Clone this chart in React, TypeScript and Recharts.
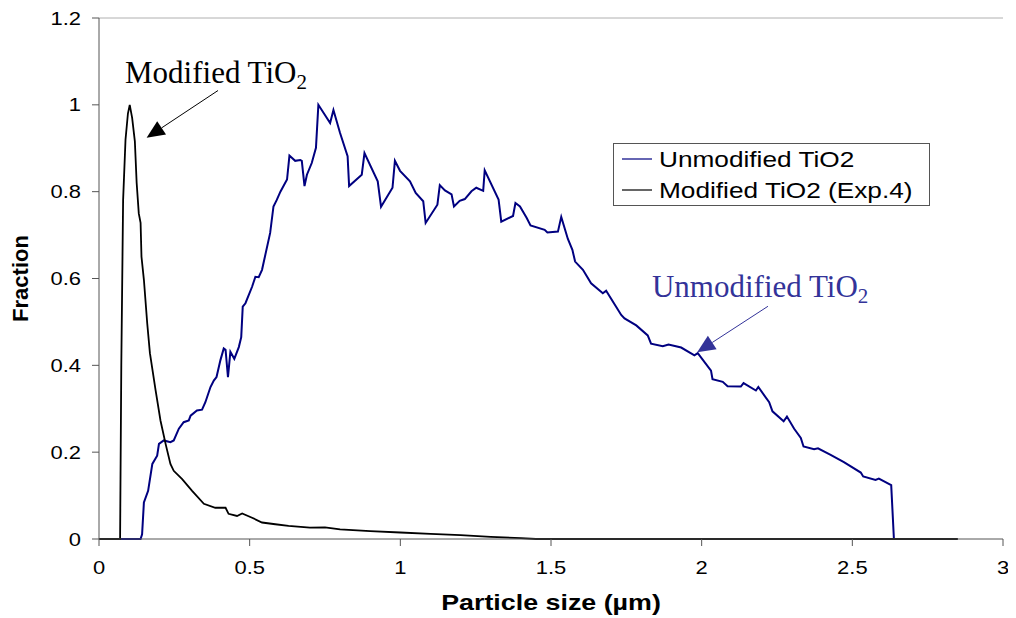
import React from 'react';
import { LineChart, Line, XAxis, YAxis, ReferenceLine } from 'recharts';

// ---- data ----
const modX = [0, 0.07, 0.074, 0.08, 0.088, 0.096, 0.102, 0.11, 0.119, 0.125, 0.132, 0.138, 0.141, 0.149, 0.16, 0.169, 0.188, 0.204, 0.221, 0.237, 0.248, 0.276, 0.309, 0.348, 0.386, 0.42, 0.43, 0.458, 0.475, 0.508, 0.541, 0.585, 0.629, 0.7, 0.75, 0.8, 0.9, 1.0, 1.1, 1.2, 1.3, 1.4, 1.45, 2.85];
const modY = [0, 0, 0.4, 0.78, 0.92, 0.98, 1.0, 0.97, 0.916, 0.82, 0.75, 0.728, 0.65, 0.597, 0.497, 0.428, 0.342, 0.273, 0.219, 0.173, 0.157, 0.138, 0.111, 0.081, 0.072, 0.072, 0.058, 0.053, 0.059, 0.049, 0.038, 0.034, 0.03, 0.026, 0.027, 0.022, 0.018, 0.015, 0.012, 0.009, 0.005, 0.002, 0, 0];

const unX = [0, 0.138, 0.143, 0.149, 0.163, 0.177, 0.193, 0.199, 0.215, 0.237, 0.248, 0.265, 0.281, 0.298, 0.304, 0.325, 0.342, 0.353, 0.37, 0.381, 0.39, 0.403, 0.414, 0.42, 0.428, 0.436, 0.449, 0.464, 0.472, 0.477, 0.486, 0.508, 0.519, 0.53, 0.541, 0.568, 0.579, 0.59, 0.602, 0.624, 0.632, 0.651, 0.668, 0.673, 0.682, 0.69, 0.706, 0.72, 0.728, 0.767, 0.778, 0.8, 0.825, 0.83, 0.872, 0.881, 0.925, 0.936, 0.974, 0.982, 0.999, 1.032, 1.051, 1.076, 1.084, 1.123, 1.131, 1.148, 1.17, 1.178, 1.197, 1.214, 1.236, 1.252, 1.275, 1.28, 1.326, 1.335, 1.374, 1.382, 1.397, 1.419, 1.432, 1.479, 1.488, 1.523, 1.534, 1.556, 1.571, 1.58, 1.606, 1.633, 1.672, 1.683, 1.733, 1.744, 1.783, 1.821, 1.832, 1.871, 1.89, 1.932, 1.976, 1.987, 2.031, 2.036, 2.07, 2.086, 2.13, 2.139, 2.18, 2.188, 2.224, 2.235, 2.272, 2.283, 2.307, 2.329, 2.338, 2.373, 2.386, 2.428, 2.472, 2.528, 2.536, 2.577, 2.588, 2.629, 2.638, 2.848];
const unY = [0, 0, 0.011, 0.084, 0.111, 0.173, 0.192, 0.219, 0.227, 0.223, 0.227, 0.254, 0.269, 0.273, 0.284, 0.296, 0.298, 0.315, 0.35, 0.365, 0.373, 0.412, 0.439, 0.436, 0.373, 0.431, 0.415, 0.442, 0.465, 0.535, 0.543, 0.581, 0.604, 0.603, 0.62, 0.705, 0.766, 0.781, 0.8, 0.828, 0.883, 0.871, 0.873, 0.871, 0.813, 0.839, 0.866, 0.901, 1.0, 0.958, 0.988, 0.935, 0.882, 0.813, 0.839, 0.889, 0.824, 0.765, 0.809, 0.871, 0.848, 0.824, 0.797, 0.778, 0.728, 0.77, 0.815, 0.803, 0.794, 0.766, 0.779, 0.783, 0.801, 0.809, 0.802, 0.849, 0.782, 0.731, 0.744, 0.774, 0.766, 0.74, 0.722, 0.712, 0.706, 0.708, 0.742, 0.691, 0.666, 0.639, 0.62, 0.589, 0.566, 0.572, 0.516, 0.508, 0.492, 0.469, 0.45, 0.444, 0.448, 0.441, 0.423, 0.428, 0.388, 0.368, 0.362, 0.352, 0.351, 0.359, 0.342, 0.35, 0.315, 0.294, 0.271, 0.282, 0.254, 0.233, 0.213, 0.207, 0.209, 0.194, 0.177, 0.153, 0.144, 0.136, 0.139, 0.124, 0, 0];

const xTicks = [0, 0.5, 1, 1.5, 2, 2.5, 3];
const yTicks = [0, 0.2, 0.4, 0.6, 0.8, 1, 1.2];

const seriesNames = ['Unmodified TiO2', 'Modified TiO2 (Exp.4)'];
const annotModified = { text: 'Modified TiO', sub: '2', tail: { x: 0.395, y: 1.033 }, tip: { x: 0.158, y: 0.924 } };
const annotUnmodified = { text: 'Unmodified TiO', sub: '2', tail: { x: 2.22, y: 0.536 }, tip: { x: 1.985, y: 0.43 } };

const modData = modX.map((x, i) => ({ x, y: modY[i] }));
const unData = unX.map((x, i) => ({ x, y: unY[i] }));

const SANS = '"Liberation Sans", Arial, sans-serif';
const SERIF = '"Liberation Serif", "Times New Roman", serif';
const SX = 1.22;
const AXIS = '#555555';
const BLUE = '#000080';
const ANN_BLUE = '#333399';

const XTick = (props: any) => {
  const { x, y, payload } = props;
  return (
    <g transform={`translate(${x},${y}) scale(${SX},1)`}>
      <text x={0} y={0} dy={26} textAnchor="middle" fontFamily={SANS} fontSize={18} fill="#000">
        {String(payload.value)}
      </text>
    </g>
  );
};

const YTick = (props: any) => {
  const { x, y, payload } = props;
  return (
    <g transform={`translate(${x - 9},${y}) scale(${SX},1)`}>
      <text x={0} y={0} dy={6.5} textAnchor="end" fontFamily={SANS} fontSize={18} fill="#000">
        {String(payload.value)}
      </text>
    </g>
  );
};

const makeArrow = (color: string, text: string, sub: string, dx: number, dy: number) => (props: any) => {
  const { x1, y1, x2, y2 } = props;
  const len = Math.hypot(x2 - x1, y2 - y1) || 1;
  const ux = (x2 - x1) / len;
  const uy = (y2 - y1) / len;
  const hl = 18;
  const hw = 8;
  const bx = x2 - ux * hl;
  const by = y2 - uy * hl;
  const nx = -uy;
  const ny = ux;
  return (
    <g>
      <line x1={x1} y1={y1} x2={bx} y2={by} stroke={color} strokeWidth={1} />
      <polygon points={`${x2},${y2} ${bx + nx * hw},${by + ny * hw} ${bx - nx * hw},${by - ny * hw}`} fill={color} />
      <text x={x1 + dx} y={y1 + dy} fontFamily={SERIF} fontSize={31} fill={color}>
        <tspan>{text}</tspan>
        <tspan fontSize={21} dy={6}>{sub}</tspan>
      </text>
    </g>
  );
};

const ModArrow = makeArrow('#000', annotModified.text, annotModified.sub, -93, -8);
const UnArrow = makeArrow(ANN_BLUE, annotUnmodified.text, annotUnmodified.sub, -116, -9);

export default function App() {
  return (
    <div style={{ position: 'relative', width: 1008, height: 610 }}>
      <LineChart width={1008} height={610} margin={{ top: 10, right: 13, left: 31, bottom: 0 }} style={{ overflow: 'visible' }}>
        <XAxis
          dataKey="x"
          type="number"
          domain={[0, 3]}
          ticks={xTicks}
          allowDataOverflow
          height={79}
          tickSize={7}
          stroke={AXIS}
          tick={<XTick />}
          label={{
            content: (p: any) => {
              const vb = p.viewBox || { x: 91, y: 531, width: 904, height: 79 };
              const cx = vb.x + vb.width / 2;
              return (
                <g transform={`translate(${cx},${vb.y + 71}) scale(${SX},1)`}>
                  <text x={0} y={0} textAnchor="middle" fontFamily={SANS} fontWeight="bold" fontSize={22} fill="#000">
                    Particle size (µm)
                  </text>
                </g>
              );
            },
          }}
        />
        <YAxis
          type="number"
          domain={[0, 1.2]}
          ticks={yTicks}
          width={60}
          tickSize={7}
          stroke={AXIS}
          tick={<YTick />}
          label={{
            content: (p: any) => {
              const vb = p.viewBox || { x: 31, y: 10, width: 60, height: 521 };
              const cy = vb.y + vb.height / 2;
              const tx = vb.x - 11;
              return (
                <text
                  x={tx}
                  y={cy}
                  transform={`rotate(-90, ${tx}, ${cy})`}
                  textAnchor="middle"
                  fontFamily={SANS}
                  fontWeight="bold"
                  fontSize={22}
                  fill="#000"
                >
                  Fraction
                </text>
              );
            },
          }}
        />
        <ReferenceLine y={1.2} stroke="#b0b0b0" strokeWidth={1} />
        <Line
          data={unData}
          dataKey="y"
          name={seriesNames[0]}
          type="linear"
          stroke={BLUE}
          strokeWidth={2}
          dot={false}
          activeDot={false}
          isAnimationActive={false}
        />
        <Line
          data={modData}
          dataKey="y"
          name={seriesNames[1]}
          type="linear"
          stroke="#000"
          strokeWidth={1.8}
          dot={false}
          activeDot={false}
          isAnimationActive={false}
        />
        <ReferenceLine segment={[annotModified.tail, annotModified.tip]} ifOverflow="visible" shape={ModArrow} />
        <ReferenceLine segment={[annotUnmodified.tail, annotUnmodified.tip]} ifOverflow="visible" shape={UnArrow} />
      </LineChart>
      <svg
        width={318}
        height={64}
        style={{ position: 'absolute', left: 605, top: 135, overflow: 'visible' }}
      >
        <rect x={0.5} y={0.5} width={316} height={62} fill="#fff" stroke={AXIS} strokeWidth={1} />
        <line x1={9} y1={16} x2={39} y2={16} stroke={BLUE} strokeWidth={1.2} />
        <line x1={9} y1={47} x2={39} y2={47} stroke="#000" strokeWidth={1.2} />
        <g transform={`translate(46,23.5) scale(${SX},1)`}>
          <text x={0} y={0} fontFamily={SANS} fontSize={21.5} fill="#000">{seriesNames[0]}</text>
        </g>
        <g transform={`translate(46,54.5) scale(${SX},1)`}>
          <text x={0} y={0} fontFamily={SANS} fontSize={21.5} fill="#000">{seriesNames[1]}</text>
        </g>
      </svg>
    </div>
  );
}
